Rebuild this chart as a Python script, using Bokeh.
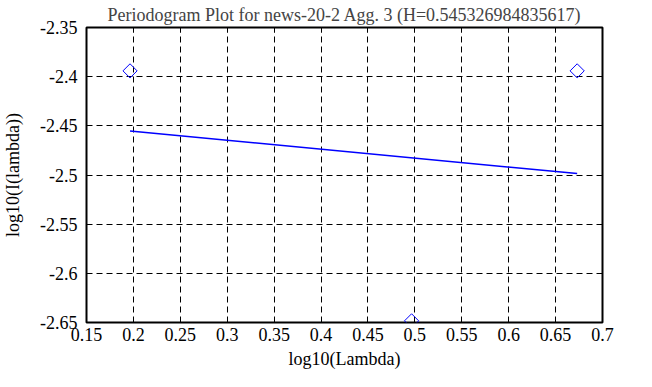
from bokeh.plotting import figure
from bokeh.models import FixedTicker, LinearAxis, Range1d
from bokeh.embed import file_html
from bokeh.resources import INLINE
import math

# data
pts_x = [0.1964, 0.6730, 0.4965]
pts_y = [-2.3941, -2.3941, -2.6483]
fit_x = [0.1964, 0.6730]
fit_y = [-2.4553, -2.4985]
x_ticks = [0.15, 0.2, 0.25, 0.3, 0.35, 0.4, 0.45, 0.5, 0.55, 0.6, 0.65, 0.7]
x_labels = ["0.15", "0.2", "0.25", "0.3", "0.35", "0.4", "0.45", "0.5", "0.55", "0.6", "0.65", "0.7"]
y_ticks = [-2.65, -2.6, -2.55, -2.5, -2.45, -2.4, -2.35]
y_labels = ["-2.65", "-2.6", "-2.55", "-2.5", "-2.45", "-2.4", "-2.35"]
title = "Periodogram Plot for news-20-2 Agg. 3 (H=0.545326984835617)"

FONT = "Liberation Serif"

p = figure(width=636, height=371, output_backend="svg", toolbar_location=None,
           x_range=Range1d(0.15, 0.7), y_range=Range1d(-2.65, -2.35),
           min_border_left=84, min_border_right=34, min_border_top=23, min_border_bottom=49,
           title=title)
p.title.text_font = FONT
p.title.text_font_size = "18px"
p.title.text_font_style = "normal"
p.title.align = "center"
p.title.standoff = 5

p.outline_line_color = "black"
p.outline_line_width = 2
p.background_fill_color = "white"
p.border_fill_color = "white"

xt = FixedTicker(ticks=x_ticks, minor_ticks=[])
yt = FixedTicker(ticks=y_ticks, minor_ticks=[])

for ax in p.xaxis:
    ax.ticker = xt
    ax.major_label_overrides = {t: l for t, l in zip(x_ticks, x_labels)}
    ax.axis_label = "log10(Lambda)"
for ax in p.yaxis:
    ax.ticker = yt
    ax.major_label_overrides = {t: l for t, l in zip(y_ticks, y_labels)}
    ax.axis_label = "log10(I(lambda))"

top = LinearAxis(ticker=xt, major_label_overrides={t: "" for t in x_ticks})
right = LinearAxis(ticker=yt, major_label_overrides={t: "" for t in y_ticks})
p.add_layout(top, "above")
p.add_layout(right, "right")

for ax in list(p.xaxis) + list(p.yaxis):
    ax.axis_line_color = None
    ax.major_tick_in = 5
    ax.major_tick_out = 0
    ax.major_tick_line_color = "black"
    ax.major_tick_line_width = 1
    ax.minor_tick_line_color = None
    ax.major_label_text_font = FONT
    ax.major_label_text_font_size = "18px"
    ax.major_label_text_color = "black"
    ax.axis_label_text_font = FONT
    ax.axis_label_text_font_size = "18px"
    ax.axis_label_text_font_style = "normal"
    ax.axis_label_text_color = "black"

for ax in (top, right):
    ax.major_label_standoff = 0
    ax.axis_label = None

p.xaxis[0].major_label_standoff = 5
p.xaxis[0].axis_label_standoff = 2
p.yaxis[0].major_label_standoff = 9
p.yaxis[0].axis_label_standoff = 14

p.xgrid.ticker = xt
p.ygrid.ticker = yt
for g in (p.xgrid, p.ygrid):
    g.grid_line_color = "black"
    g.grid_line_dash = "6 4"
    g.grid_line_width = 1

p.line(fit_x, fit_y, line_color="#0000ff", line_width=1.5)
p.scatter(pts_x, pts_y, marker="square", size=10, angle=math.pi / 4,
          fill_color=None, line_color="#0000ff", line_width=1)

open("out.html", "w").write(file_html(p, INLINE))
